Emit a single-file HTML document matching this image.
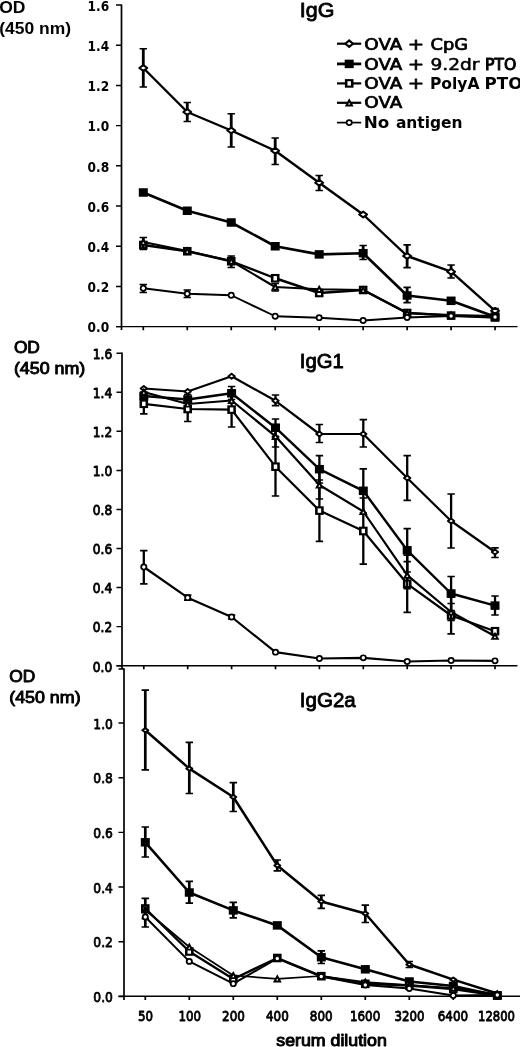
<!DOCTYPE html>
<html lang="en"><head><meta charset="utf-8"><title>OVA-specific IgG, IgG1 and IgG2a serum titres</title>
<style>
html,body{margin:0;padding:0;background:#fff}
body{width:520px;height:1047px;overflow:hidden}
svg{display:block}
text{fill:#000;stroke:#000;stroke-linejoin:round}
.tk{font-family:"DejaVu Sans","Liberation Sans",sans-serif}
.lg{font-family:"DejaVu Sans","Liberation Sans",sans-serif;font-size:15.6px}
.ar{font-family:"Liberation Sans",sans-serif}
.ti{font-size:21px;stroke-width:.85}
.od{font-size:16px}
</style></head><body>
<svg width="520" height="1047" viewBox="0 0 520 1047">
<rect width="520" height="1047" fill="#fff"/>
<path d="M121.5 4.5V330.0" fill="none" stroke="#000" stroke-width="1.7"/>
<path d="M116.0 326.6H517.5" fill="none" stroke="#000" stroke-width="1.45"/>
<path d="M116.0 326.6H121.5M116.0 286.4H121.5M116.0 246.2H121.5M116.0 206.0H121.5M116.0 165.8H121.5M116.0 125.6H121.5M116.0 85.4H121.5M116.0 45.2H121.5M116.0 5.0H121.5" fill="none" stroke="#000" stroke-width="1.45"/>
<path d="M143.30 326.6V330.20000000000005M187.27 326.6V330.20000000000005M231.24 326.6V330.20000000000005M275.21 326.6V330.20000000000005M319.18 326.6V330.20000000000005M363.15 326.6V330.20000000000005M407.12 326.6V330.20000000000005M451.09 326.6V330.20000000000005M495.06 326.6V330.20000000000005" fill="none" stroke="#000" stroke-width="1.7"/>
<text x="109.2" y="332.30" text-anchor="end" font-size="13.8" textLength="21.6" lengthAdjust="spacingAndGlyphs" class="tk" font-weight="bold" stroke-width="0.0">0.0</text>
<text x="109.2" y="292.10" text-anchor="end" font-size="13.8" textLength="21.6" lengthAdjust="spacingAndGlyphs" class="tk" font-weight="bold" stroke-width="0.0">0.2</text>
<text x="109.2" y="251.90" text-anchor="end" font-size="13.8" textLength="21.6" lengthAdjust="spacingAndGlyphs" class="tk" font-weight="bold" stroke-width="0.0">0.4</text>
<text x="109.2" y="211.70" text-anchor="end" font-size="13.8" textLength="21.6" lengthAdjust="spacingAndGlyphs" class="tk" font-weight="bold" stroke-width="0.0">0.6</text>
<text x="109.2" y="171.50" text-anchor="end" font-size="13.8" textLength="21.6" lengthAdjust="spacingAndGlyphs" class="tk" font-weight="bold" stroke-width="0.0">0.8</text>
<text x="109.2" y="131.30" text-anchor="end" font-size="13.8" textLength="21.6" lengthAdjust="spacingAndGlyphs" class="tk" font-weight="bold" stroke-width="0.0">1.0</text>
<text x="109.2" y="91.10" text-anchor="end" font-size="13.8" textLength="21.6" lengthAdjust="spacingAndGlyphs" class="tk" font-weight="bold" stroke-width="0.0">1.2</text>
<text x="109.2" y="50.90" text-anchor="end" font-size="13.8" textLength="21.6" lengthAdjust="spacingAndGlyphs" class="tk" font-weight="bold" stroke-width="0.0">1.4</text>
<text x="109.2" y="10.70" text-anchor="end" font-size="13.8" textLength="21.6" lengthAdjust="spacingAndGlyphs" class="tk" font-weight="bold" stroke-width="0.0">1.6</text>
<polyline points="143.30,68.00 187.27,112.00 231.24,130.50 275.21,150.75 319.18,182.75 363.15,214.50 407.12,256.00 451.09,271.70 495.06,310.80" fill="none" stroke="#000" stroke-width="2.4" stroke-linejoin="round"/>
<path d="M143.30 48.75V87.00M187.27 102.50V121.50M231.24 113.75V147.00M275.21 138.00V164.50M319.18 175.50V190.50M407.12 244.80V267.70M451.09 265.00V278.00M495.06 308.50V313.00" fill="none" stroke="#000" stroke-width="2.8"/>
<path d="M139.60 48.75H147.00M139.60 87.00H147.00M183.57 102.50H190.97M183.57 121.50H190.97M227.54 113.75H234.94M227.54 147.00H234.94M271.51 138.00H278.91M271.51 164.50H278.91M315.48 175.50H322.88M315.48 190.50H322.88M403.42 244.80H410.82M403.42 267.70H410.82M447.39 265.00H454.79M447.39 278.00H454.79M491.36 308.50H498.76M491.36 313.00H498.76" fill="none" stroke="#000" stroke-width="1.7"/>
<path d="M143.30 65.10L147.30 68.00L143.30 70.90L139.30 68.00Z" fill="#fff" stroke="#000" stroke-width="2.0" stroke-linejoin="round"/>
<path d="M187.27 109.10L191.27 112.00L187.27 114.90L183.27 112.00Z" fill="#fff" stroke="#000" stroke-width="2.0" stroke-linejoin="round"/>
<path d="M231.24 127.60L235.24 130.50L231.24 133.40L227.24 130.50Z" fill="#fff" stroke="#000" stroke-width="2.0" stroke-linejoin="round"/>
<path d="M275.21 147.85L279.21 150.75L275.21 153.65L271.21 150.75Z" fill="#fff" stroke="#000" stroke-width="2.0" stroke-linejoin="round"/>
<path d="M319.18 179.85L323.18 182.75L319.18 185.65L315.18 182.75Z" fill="#fff" stroke="#000" stroke-width="2.0" stroke-linejoin="round"/>
<path d="M363.15 211.60L367.15 214.50L363.15 217.40L359.15 214.50Z" fill="#fff" stroke="#000" stroke-width="2.0" stroke-linejoin="round"/>
<path d="M407.12 253.10L411.12 256.00L407.12 258.90L403.12 256.00Z" fill="#fff" stroke="#000" stroke-width="2.0" stroke-linejoin="round"/>
<path d="M451.09 268.80L455.09 271.70L451.09 274.60L447.09 271.70Z" fill="#fff" stroke="#000" stroke-width="2.0" stroke-linejoin="round"/>
<path d="M495.06 307.90L499.06 310.80L495.06 313.70L491.06 310.80Z" fill="#fff" stroke="#000" stroke-width="2.0" stroke-linejoin="round"/>
<polyline points="143.30,192.50 187.27,210.75 231.24,222.50 275.21,246.25 319.18,254.40 363.15,253.20 407.12,295.50 451.09,300.80 495.06,316.70" fill="none" stroke="#000" stroke-width="2.6" stroke-linejoin="round"/>
<path d="M363.15 245.50V259.50M407.12 287.30V302.60" fill="none" stroke="#000" stroke-width="2.8"/>
<path d="M359.45 245.50H366.85M359.45 259.50H366.85M403.42 287.30H410.82M403.42 302.60H410.82" fill="none" stroke="#000" stroke-width="1.7"/>
<rect x="138.80" y="188.25" width="9.00" height="8.50" fill="#000"/>
<rect x="182.77" y="206.50" width="9.00" height="8.50" fill="#000"/>
<rect x="226.74" y="218.25" width="9.00" height="8.50" fill="#000"/>
<rect x="270.71" y="242.00" width="9.00" height="8.50" fill="#000"/>
<rect x="314.68" y="250.15" width="9.00" height="8.50" fill="#000"/>
<rect x="358.65" y="248.95" width="9.00" height="8.50" fill="#000"/>
<rect x="402.62" y="291.25" width="9.00" height="8.50" fill="#000"/>
<rect x="446.59" y="296.55" width="9.00" height="8.50" fill="#000"/>
<rect x="490.56" y="312.45" width="9.00" height="8.50" fill="#000"/>
<polyline points="143.30,245.00 187.27,251.25 231.24,261.25 275.21,278.25 319.18,293.00 363.15,290.00 407.12,313.00 451.09,315.60 495.06,317.50" fill="none" stroke="#000" stroke-width="2.4" stroke-linejoin="round"/>
<rect x="139.00" y="240.70" width="8.60" height="8.60" fill="#000"/><rect x="141.55" y="242.80" width="3.50" height="4.40" fill="#fff"/>
<rect x="182.97" y="246.95" width="8.60" height="8.60" fill="#000"/><rect x="185.52" y="249.05" width="3.50" height="4.40" fill="#fff"/>
<rect x="226.94" y="256.95" width="8.60" height="8.60" fill="#000"/><rect x="229.49" y="259.05" width="3.50" height="4.40" fill="#fff"/>
<rect x="270.91" y="273.95" width="8.60" height="8.60" fill="#000"/><rect x="273.46" y="276.05" width="3.50" height="4.40" fill="#fff"/>
<rect x="314.88" y="288.70" width="8.60" height="8.60" fill="#000"/><rect x="317.43" y="290.80" width="3.50" height="4.40" fill="#fff"/>
<rect x="358.85" y="285.70" width="8.60" height="8.60" fill="#000"/><rect x="361.40" y="287.80" width="3.50" height="4.40" fill="#fff"/>
<rect x="402.82" y="308.70" width="8.60" height="8.60" fill="#000"/><rect x="405.37" y="310.80" width="3.50" height="4.40" fill="#fff"/>
<rect x="446.79" y="311.30" width="8.60" height="8.60" fill="#000"/><rect x="449.34" y="313.40" width="3.50" height="4.40" fill="#fff"/>
<rect x="490.76" y="313.20" width="8.60" height="8.60" fill="#000"/><rect x="493.31" y="315.30" width="3.50" height="4.40" fill="#fff"/>
<polyline points="143.30,242.00 187.27,251.00 231.24,261.00 275.21,287.00 319.18,289.30 363.15,290.00 407.12,313.00 451.09,315.00 495.06,316.00" fill="none" stroke="#000" stroke-width="2.1" stroke-linejoin="round"/>
<path d="M143.30 237.50V249.50M231.24 256.00V267.50M275.21 283.50V291.00" fill="none" stroke="#000" stroke-width="2.8"/>
<path d="M139.60 237.50H147.00M139.60 249.50H147.00M227.54 256.00H234.94M227.54 267.50H234.94M271.51 283.50H278.91M271.51 291.00H278.91" fill="none" stroke="#000" stroke-width="1.7"/>
<path d="M143.30 237.50L147.70 245.60L138.90 245.60Z" fill="#000"/><path d="M143.30 241.80L144.40 243.80L142.20 243.80Z" fill="#fff"/>
<path d="M187.27 246.50L191.67 254.60L182.87 254.60Z" fill="#000"/><path d="M187.27 250.80L188.37 252.80L186.17 252.80Z" fill="#fff"/>
<path d="M231.24 256.50L235.64 264.60L226.84 264.60Z" fill="#000"/><path d="M231.24 260.80L232.34 262.80L230.14 262.80Z" fill="#fff"/>
<path d="M275.21 282.50L279.61 290.60L270.81 290.60Z" fill="#000"/><path d="M275.21 286.80L276.31 288.80L274.11 288.80Z" fill="#fff"/>
<path d="M319.18 284.80L323.58 292.90L314.78 292.90Z" fill="#000"/><path d="M319.18 289.10L320.28 291.10L318.08 291.10Z" fill="#fff"/>
<path d="M363.15 285.50L367.55 293.60L358.75 293.60Z" fill="#000"/><path d="M363.15 289.80L364.25 291.80L362.05 291.80Z" fill="#fff"/>
<path d="M407.12 308.50L411.52 316.60L402.72 316.60Z" fill="#000"/><path d="M407.12 312.80L408.22 314.80L406.02 314.80Z" fill="#fff"/>
<path d="M451.09 310.50L455.49 318.60L446.69 318.60Z" fill="#000"/><path d="M451.09 314.80L452.19 316.80L449.99 316.80Z" fill="#fff"/>
<path d="M495.06 311.50L499.46 319.60L490.66 319.60Z" fill="#000"/><path d="M495.06 315.80L496.16 317.80L493.96 317.80Z" fill="#fff"/>
<polyline points="143.30,288.25 187.27,293.75 231.24,295.25 275.21,316.25 319.18,317.70 363.15,320.50 407.12,317.50 451.09,316.00 495.06,317.00" fill="none" stroke="#000" stroke-width="1.9" stroke-linejoin="round"/>
<path d="M143.30 284.50V292.50M187.27 290.00V297.50" fill="none" stroke="#000" stroke-width="2.8"/>
<path d="M139.60 284.50H147.00M139.60 292.50H147.00M183.57 290.00H190.97M183.57 297.50H190.97" fill="none" stroke="#000" stroke-width="1.7"/>
<ellipse cx="143.30" cy="288.25" rx="3.50" ry="3.40" fill="#000"/><ellipse cx="143.30" cy="288.25" rx="1.70" ry="1.70" fill="#fff"/>
<ellipse cx="187.27" cy="293.75" rx="3.50" ry="3.40" fill="#000"/><ellipse cx="187.27" cy="293.75" rx="1.70" ry="1.70" fill="#fff"/>
<ellipse cx="231.24" cy="295.25" rx="3.50" ry="3.40" fill="#000"/><ellipse cx="231.24" cy="295.25" rx="1.70" ry="1.70" fill="#fff"/>
<ellipse cx="275.21" cy="316.25" rx="3.50" ry="3.40" fill="#000"/><ellipse cx="275.21" cy="316.25" rx="1.70" ry="1.70" fill="#fff"/>
<ellipse cx="319.18" cy="317.70" rx="3.50" ry="3.40" fill="#000"/><ellipse cx="319.18" cy="317.70" rx="1.70" ry="1.70" fill="#fff"/>
<ellipse cx="363.15" cy="320.50" rx="3.50" ry="3.40" fill="#000"/><ellipse cx="363.15" cy="320.50" rx="1.70" ry="1.70" fill="#fff"/>
<ellipse cx="407.12" cy="317.50" rx="3.50" ry="3.40" fill="#000"/><ellipse cx="407.12" cy="317.50" rx="1.70" ry="1.70" fill="#fff"/>
<ellipse cx="451.09" cy="316.00" rx="3.50" ry="3.40" fill="#000"/><ellipse cx="451.09" cy="316.00" rx="1.70" ry="1.70" fill="#fff"/>
<ellipse cx="495.06" cy="317.00" rx="3.50" ry="3.40" fill="#000"/><ellipse cx="495.06" cy="317.00" rx="1.70" ry="1.70" fill="#fff"/>
<path d="M122.0 352.4V669.1" fill="none" stroke="#000" stroke-width="1.7"/>
<path d="M116.5 665.7H517.5" fill="none" stroke="#000" stroke-width="1.45"/>
<path d="M116.5 665.7H122.0M116.5 626.64H122.0M116.5 587.58H122.0M116.5 548.52H122.0M116.5 509.46H122.0M116.5 470.4H122.0M116.5 431.34H122.0M116.5 392.28H122.0M116.5 353.22H122.0" fill="none" stroke="#000" stroke-width="1.45"/>
<path d="M143.80 665.7V669.3000000000001M187.70 665.7V669.3000000000001M231.60 665.7V669.3000000000001M275.50 665.7V669.3000000000001M319.40 665.7V669.3000000000001M363.30 665.7V669.3000000000001M407.20 665.7V669.3000000000001M451.10 665.7V669.3000000000001M495.00 665.7V669.3000000000001" fill="none" stroke="#000" stroke-width="1.7"/>
<text x="112.2" y="671.50" text-anchor="end" font-size="13.2" textLength="19.4" lengthAdjust="spacingAndGlyphs" class="tk" font-weight="normal" stroke-width="0.85">0.0</text>
<text x="112.2" y="632.44" text-anchor="end" font-size="13.2" textLength="19.4" lengthAdjust="spacingAndGlyphs" class="tk" font-weight="normal" stroke-width="0.85">0.2</text>
<text x="112.2" y="593.38" text-anchor="end" font-size="13.2" textLength="19.4" lengthAdjust="spacingAndGlyphs" class="tk" font-weight="normal" stroke-width="0.85">0.4</text>
<text x="112.2" y="554.32" text-anchor="end" font-size="13.2" textLength="19.4" lengthAdjust="spacingAndGlyphs" class="tk" font-weight="normal" stroke-width="0.85">0.6</text>
<text x="112.2" y="515.26" text-anchor="end" font-size="13.2" textLength="19.4" lengthAdjust="spacingAndGlyphs" class="tk" font-weight="normal" stroke-width="0.85">0.8</text>
<text x="112.2" y="476.20" text-anchor="end" font-size="13.2" textLength="19.4" lengthAdjust="spacingAndGlyphs" class="tk" font-weight="normal" stroke-width="0.85">1.0</text>
<text x="112.2" y="437.14" text-anchor="end" font-size="13.2" textLength="19.4" lengthAdjust="spacingAndGlyphs" class="tk" font-weight="normal" stroke-width="0.85">1.2</text>
<text x="112.2" y="398.08" text-anchor="end" font-size="13.2" textLength="19.4" lengthAdjust="spacingAndGlyphs" class="tk" font-weight="normal" stroke-width="0.85">1.4</text>
<text x="112.2" y="359.02" text-anchor="end" font-size="13.2" textLength="19.4" lengthAdjust="spacingAndGlyphs" class="tk" font-weight="normal" stroke-width="0.85">1.6</text>
<polyline points="143.80,388.50 187.70,391.50 231.60,376.30 275.50,400.80 319.40,434.00 363.30,434.00 407.20,478.00 451.10,521.00 495.00,552.00" fill="none" stroke="#000" stroke-width="2.2" stroke-linejoin="round"/>
<path d="M275.50 395.00V405.60M319.40 424.50V442.50M363.30 419.60V447.00M407.20 455.60V500.30M451.10 494.00V548.00M495.00 547.80V557.50" fill="none" stroke="#000" stroke-width="2.3"/>
<path d="M271.80 395.00H279.20M271.80 405.60H279.20M315.70 424.50H323.10M315.70 442.50H323.10M359.60 419.60H367.00M359.60 447.00H367.00M403.50 455.60H410.90M403.50 500.30H410.90M447.40 494.00H454.80M447.40 548.00H454.80M491.30 547.80H498.70M491.30 557.50H498.70" fill="none" stroke="#000" stroke-width="1.7"/>
<path d="M143.80 386.00L147.00 388.50L143.80 391.00L140.60 388.50Z" fill="#fff" stroke="#000" stroke-width="1.9" stroke-linejoin="round"/>
<path d="M187.70 389.00L190.90 391.50L187.70 394.00L184.50 391.50Z" fill="#fff" stroke="#000" stroke-width="1.9" stroke-linejoin="round"/>
<path d="M231.60 373.80L234.80 376.30L231.60 378.80L228.40 376.30Z" fill="#fff" stroke="#000" stroke-width="1.9" stroke-linejoin="round"/>
<path d="M275.50 398.30L278.70 400.80L275.50 403.30L272.30 400.80Z" fill="#fff" stroke="#000" stroke-width="1.9" stroke-linejoin="round"/>
<path d="M319.40 431.50L322.60 434.00L319.40 436.50L316.20 434.00Z" fill="#fff" stroke="#000" stroke-width="1.9" stroke-linejoin="round"/>
<path d="M363.30 431.50L366.50 434.00L363.30 436.50L360.10 434.00Z" fill="#fff" stroke="#000" stroke-width="1.9" stroke-linejoin="round"/>
<path d="M407.20 475.50L410.40 478.00L407.20 480.50L404.00 478.00Z" fill="#fff" stroke="#000" stroke-width="1.9" stroke-linejoin="round"/>
<path d="M451.10 518.50L454.30 521.00L451.10 523.50L447.90 521.00Z" fill="#fff" stroke="#000" stroke-width="1.9" stroke-linejoin="round"/>
<path d="M495.00 549.50L498.20 552.00L495.00 554.50L491.80 552.00Z" fill="#fff" stroke="#000" stroke-width="1.9" stroke-linejoin="round"/>
<polyline points="143.80,396.00 187.70,399.50 231.60,393.30 275.50,427.70 319.40,469.20 363.30,490.80 407.20,550.30 451.10,593.50 495.00,605.60" fill="none" stroke="#000" stroke-width="2.4" stroke-linejoin="round"/>
<path d="M231.60 386.50V399.50M275.50 419.00V436.40M319.40 455.60V483.00M363.30 468.80V513.00M407.20 528.60V572.00M451.10 576.50V610.50M495.00 596.00V615.00" fill="none" stroke="#000" stroke-width="2.3"/>
<path d="M227.90 386.50H235.30M227.90 399.50H235.30M271.80 419.00H279.20M271.80 436.40H279.20M315.70 455.60H323.10M315.70 483.00H323.10M359.60 468.80H367.00M359.60 513.00H367.00M403.50 528.60H410.90M403.50 572.00H410.90M447.40 576.50H454.80M447.40 610.50H454.80M491.30 596.00H498.70M491.30 615.00H498.70" fill="none" stroke="#000" stroke-width="1.7"/>
<rect x="139.30" y="391.75" width="9.00" height="8.50" fill="#000"/>
<rect x="183.20" y="395.25" width="9.00" height="8.50" fill="#000"/>
<rect x="227.10" y="389.05" width="9.00" height="8.50" fill="#000"/>
<rect x="271.00" y="423.45" width="9.00" height="8.50" fill="#000"/>
<rect x="314.90" y="464.95" width="9.00" height="8.50" fill="#000"/>
<rect x="358.80" y="486.55" width="9.00" height="8.50" fill="#000"/>
<rect x="402.70" y="546.05" width="9.00" height="8.50" fill="#000"/>
<rect x="446.60" y="589.25" width="9.00" height="8.50" fill="#000"/>
<rect x="490.50" y="601.35" width="9.00" height="8.50" fill="#000"/>
<polyline points="143.80,403.80 187.70,409.00 231.60,409.60 275.50,466.70 319.40,510.60 363.30,531.00 407.20,583.80 451.10,615.50 495.00,631.20" fill="none" stroke="#000" stroke-width="2.2" stroke-linejoin="round"/>
<path d="M143.80 392.00V413.80M187.70 394.50V421.50M231.60 392.00V427.00M275.50 437.40V496.00M319.40 480.00V541.30M363.30 498.00V564.20M407.20 555.20V612.40M451.10 597.20V633.80" fill="none" stroke="#000" stroke-width="2.3"/>
<path d="M140.10 392.00H147.50M140.10 413.80H147.50M184.00 394.50H191.40M184.00 421.50H191.40M227.90 392.00H235.30M227.90 427.00H235.30M271.80 437.40H279.20M271.80 496.00H279.20M315.70 480.00H323.10M315.70 541.30H323.10M359.60 498.00H367.00M359.60 564.20H367.00M403.50 555.20H410.90M403.50 612.40H410.90M447.40 597.20H454.80M447.40 633.80H454.80" fill="none" stroke="#000" stroke-width="1.7"/>
<rect x="139.50" y="399.50" width="8.60" height="8.60" fill="#000"/><rect x="142.05" y="401.60" width="3.50" height="4.40" fill="#fff"/>
<rect x="183.40" y="404.70" width="8.60" height="8.60" fill="#000"/><rect x="185.95" y="406.80" width="3.50" height="4.40" fill="#fff"/>
<rect x="227.30" y="405.30" width="8.60" height="8.60" fill="#000"/><rect x="229.85" y="407.40" width="3.50" height="4.40" fill="#fff"/>
<rect x="271.20" y="462.40" width="8.60" height="8.60" fill="#000"/><rect x="273.75" y="464.50" width="3.50" height="4.40" fill="#fff"/>
<rect x="315.10" y="506.30" width="8.60" height="8.60" fill="#000"/><rect x="317.65" y="508.40" width="3.50" height="4.40" fill="#fff"/>
<rect x="359.00" y="526.70" width="8.60" height="8.60" fill="#000"/><rect x="361.55" y="528.80" width="3.50" height="4.40" fill="#fff"/>
<rect x="402.90" y="579.50" width="8.60" height="8.60" fill="#000"/><rect x="405.45" y="581.60" width="3.50" height="4.40" fill="#fff"/>
<rect x="446.80" y="611.20" width="8.60" height="8.60" fill="#000"/><rect x="449.35" y="613.30" width="3.50" height="4.40" fill="#fff"/>
<rect x="490.70" y="626.90" width="8.60" height="8.60" fill="#000"/><rect x="493.25" y="629.00" width="3.50" height="4.40" fill="#fff"/>
<polyline points="143.80,392.00 187.70,404.00 231.60,400.50 275.50,436.30 319.40,485.00 363.30,511.50 407.20,575.20 451.10,612.00 495.00,636.20" fill="none" stroke="#000" stroke-width="2.2" stroke-linejoin="round"/>
<path d="M275.50 425.60V447.00M319.40 471.00V499.00M407.20 561.70V588.70M451.10 603.50V620.50" fill="none" stroke="#000" stroke-width="2.3"/>
<path d="M271.80 425.60H279.20M271.80 447.00H279.20M315.70 471.00H323.10M315.70 499.00H323.10M403.50 561.70H410.90M403.50 588.70H410.90M447.40 603.50H454.80M447.40 620.50H454.80" fill="none" stroke="#000" stroke-width="1.7"/>
<path d="M143.80 387.50L148.20 395.60L139.40 395.60Z" fill="#000"/><path d="M143.80 391.80L144.90 393.80L142.70 393.80Z" fill="#fff"/>
<path d="M187.70 399.50L192.10 407.60L183.30 407.60Z" fill="#000"/><path d="M187.70 403.80L188.80 405.80L186.60 405.80Z" fill="#fff"/>
<path d="M231.60 396.00L236.00 404.10L227.20 404.10Z" fill="#000"/><path d="M231.60 400.30L232.70 402.30L230.50 402.30Z" fill="#fff"/>
<path d="M275.50 431.80L279.90 439.90L271.10 439.90Z" fill="#000"/><path d="M275.50 436.10L276.60 438.10L274.40 438.10Z" fill="#fff"/>
<path d="M319.40 480.50L323.80 488.60L315.00 488.60Z" fill="#000"/><path d="M319.40 484.80L320.50 486.80L318.30 486.80Z" fill="#fff"/>
<path d="M363.30 507.00L367.70 515.10L358.90 515.10Z" fill="#000"/><path d="M363.30 511.30L364.40 513.30L362.20 513.30Z" fill="#fff"/>
<path d="M407.20 570.70L411.60 578.80L402.80 578.80Z" fill="#000"/><path d="M407.20 575.00L408.30 577.00L406.10 577.00Z" fill="#fff"/>
<path d="M451.10 607.50L455.50 615.60L446.70 615.60Z" fill="#000"/><path d="M451.10 611.80L452.20 613.80L450.00 613.80Z" fill="#fff"/>
<path d="M495.00 631.70L499.40 639.80L490.60 639.80Z" fill="#000"/><path d="M495.00 636.00L496.10 638.00L493.90 638.00Z" fill="#fff"/>
<polyline points="143.80,567.00 187.70,597.70 231.60,617.00 275.50,652.20 319.40,658.50 363.30,657.80 407.20,661.50 451.10,660.50 495.00,660.80" fill="none" stroke="#000" stroke-width="2.2" stroke-linejoin="round"/>
<path d="M143.80 550.60V583.80M187.70 595.20V600.20M231.60 615.00V619.00" fill="none" stroke="#000" stroke-width="2.3"/>
<path d="M140.10 550.60H147.50M140.10 583.80H147.50M184.00 595.20H191.40M184.00 600.20H191.40M227.90 615.00H235.30M227.90 619.00H235.30" fill="none" stroke="#000" stroke-width="1.7"/>
<ellipse cx="143.80" cy="567.00" rx="3.50" ry="3.40" fill="#000"/><ellipse cx="143.80" cy="567.00" rx="1.70" ry="1.70" fill="#fff"/>
<ellipse cx="187.70" cy="597.70" rx="3.50" ry="3.40" fill="#000"/><ellipse cx="187.70" cy="597.70" rx="1.70" ry="1.70" fill="#fff"/>
<ellipse cx="231.60" cy="617.00" rx="3.50" ry="3.40" fill="#000"/><ellipse cx="231.60" cy="617.00" rx="1.70" ry="1.70" fill="#fff"/>
<ellipse cx="275.50" cy="652.20" rx="3.50" ry="3.40" fill="#000"/><ellipse cx="275.50" cy="652.20" rx="1.70" ry="1.70" fill="#fff"/>
<ellipse cx="319.40" cy="658.50" rx="3.50" ry="3.40" fill="#000"/><ellipse cx="319.40" cy="658.50" rx="1.70" ry="1.70" fill="#fff"/>
<ellipse cx="363.30" cy="657.80" rx="3.50" ry="3.40" fill="#000"/><ellipse cx="363.30" cy="657.80" rx="1.70" ry="1.70" fill="#fff"/>
<ellipse cx="407.20" cy="661.50" rx="3.50" ry="3.40" fill="#000"/><ellipse cx="407.20" cy="661.50" rx="1.70" ry="1.70" fill="#fff"/>
<ellipse cx="451.10" cy="660.50" rx="3.50" ry="3.40" fill="#000"/><ellipse cx="451.10" cy="660.50" rx="1.70" ry="1.70" fill="#fff"/>
<ellipse cx="495.00" cy="660.80" rx="3.50" ry="3.40" fill="#000"/><ellipse cx="495.00" cy="660.80" rx="1.70" ry="1.70" fill="#fff"/>
<path d="M124.0 668.3V1000.0999999999999" fill="none" stroke="#000" stroke-width="1.7"/>
<path d="M118.5 996.3H520" fill="none" stroke="#000" stroke-width="1.45"/>
<path d="M118.5 996.4H124.0M118.5 941.72H124.0M118.5 887.04H124.0M118.5 832.36H124.0M118.5 777.68H124.0M118.5 723.0H124.0M118.5 669.0H124.0" fill="none" stroke="#000" stroke-width="1.45"/>
<path d="M145.30 996.3V999.9M189.30 996.3V999.9M233.30 996.3V999.9M277.30 996.3V999.9M321.30 996.3V999.9M365.30 996.3V999.9M409.30 996.3V999.9M453.30 996.3V999.9M497.30 996.3V999.9" fill="none" stroke="#000" stroke-width="1.7"/>
<text x="112.9" y="1002.00" text-anchor="end" font-size="13.6" textLength="19.6" lengthAdjust="spacingAndGlyphs" class="tk" font-weight="normal" stroke-width="0.75">0.0</text>
<text x="112.9" y="947.32" text-anchor="end" font-size="13.6" textLength="19.6" lengthAdjust="spacingAndGlyphs" class="tk" font-weight="normal" stroke-width="0.75">0.2</text>
<text x="112.9" y="892.64" text-anchor="end" font-size="13.6" textLength="19.6" lengthAdjust="spacingAndGlyphs" class="tk" font-weight="normal" stroke-width="0.75">0.4</text>
<text x="112.9" y="837.96" text-anchor="end" font-size="13.6" textLength="19.6" lengthAdjust="spacingAndGlyphs" class="tk" font-weight="normal" stroke-width="0.75">0.6</text>
<text x="112.9" y="783.28" text-anchor="end" font-size="13.6" textLength="19.6" lengthAdjust="spacingAndGlyphs" class="tk" font-weight="normal" stroke-width="0.75">0.8</text>
<text x="112.9" y="728.60" text-anchor="end" font-size="13.6" textLength="19.6" lengthAdjust="spacingAndGlyphs" class="tk" font-weight="normal" stroke-width="0.75">1.0</text>
<polyline points="145.30,730.20 189.30,768.60 233.30,797.00 277.30,865.50 321.30,901.50 365.30,913.50 409.30,964.50 453.30,979.60 497.30,993.50" fill="none" stroke="#000" stroke-width="2.5" stroke-linejoin="round"/>
<path d="M145.30 690.20V769.80M189.30 742.30V793.50M233.30 782.70V811.50M277.30 860.00V870.80M321.30 895.40V908.30M365.30 905.20V922.50M409.30 961.50V967.50" fill="none" stroke="#000" stroke-width="2.7"/>
<path d="M141.60 690.20H149.00M141.60 769.80H149.00M185.60 742.30H193.00M185.60 793.50H193.00M229.60 782.70H237.00M229.60 811.50H237.00M273.60 860.00H281.00M273.60 870.80H281.00M317.60 895.40H325.00M317.60 908.30H325.00M361.60 905.20H369.00M361.60 922.50H369.00M405.60 961.50H413.00M405.60 967.50H413.00" fill="none" stroke="#000" stroke-width="1.7"/>
<path d="M145.30 728.10L148.30 730.20L145.30 732.30L142.30 730.20Z" fill="#fff" stroke="#000" stroke-width="2.0" stroke-linejoin="round"/>
<path d="M189.30 766.50L192.30 768.60L189.30 770.70L186.30 768.60Z" fill="#fff" stroke="#000" stroke-width="2.0" stroke-linejoin="round"/>
<path d="M233.30 794.90L236.30 797.00L233.30 799.10L230.30 797.00Z" fill="#fff" stroke="#000" stroke-width="2.0" stroke-linejoin="round"/>
<path d="M277.30 863.40L280.30 865.50L277.30 867.60L274.30 865.50Z" fill="#fff" stroke="#000" stroke-width="2.0" stroke-linejoin="round"/>
<path d="M321.30 899.40L324.30 901.50L321.30 903.60L318.30 901.50Z" fill="#fff" stroke="#000" stroke-width="2.0" stroke-linejoin="round"/>
<path d="M365.30 911.40L368.30 913.50L365.30 915.60L362.30 913.50Z" fill="#fff" stroke="#000" stroke-width="2.0" stroke-linejoin="round"/>
<path d="M409.30 962.40L412.30 964.50L409.30 966.60L406.30 964.50Z" fill="#fff" stroke="#000" stroke-width="2.0" stroke-linejoin="round"/>
<path d="M453.30 977.50L456.30 979.60L453.30 981.70L450.30 979.60Z" fill="#fff" stroke="#000" stroke-width="2.0" stroke-linejoin="round"/>
<path d="M497.30 991.40L500.30 993.50L497.30 995.60L494.30 993.50Z" fill="#fff" stroke="#000" stroke-width="2.0" stroke-linejoin="round"/>
<polyline points="145.30,842.30 189.30,892.50 233.30,910.40 277.30,925.40 321.30,957.20 365.30,969.30 409.30,981.50 453.30,986.00 497.30,995.50" fill="none" stroke="#000" stroke-width="2.6" stroke-linejoin="round"/>
<path d="M145.30 827.00V857.00M189.30 881.40V903.20M233.30 902.40V917.80M321.30 950.80V963.50" fill="none" stroke="#000" stroke-width="2.7"/>
<path d="M141.60 827.00H149.00M141.60 857.00H149.00M185.60 881.40H193.00M185.60 903.20H193.00M229.60 902.40H237.00M229.60 917.80H237.00M317.60 950.80H325.00M317.60 963.50H325.00" fill="none" stroke="#000" stroke-width="1.7"/>
<rect x="140.80" y="838.05" width="9.00" height="8.50" fill="#000"/>
<rect x="184.80" y="888.25" width="9.00" height="8.50" fill="#000"/>
<rect x="228.80" y="906.15" width="9.00" height="8.50" fill="#000"/>
<rect x="272.80" y="921.15" width="9.00" height="8.50" fill="#000"/>
<rect x="316.80" y="952.95" width="9.00" height="8.50" fill="#000"/>
<rect x="360.80" y="965.05" width="9.00" height="8.50" fill="#000"/>
<rect x="404.80" y="977.25" width="9.00" height="8.50" fill="#000"/>
<rect x="448.80" y="981.75" width="9.00" height="8.50" fill="#000"/>
<rect x="492.80" y="991.25" width="9.00" height="8.50" fill="#000"/>
<polyline points="145.30,908.50 189.30,951.50 233.30,979.00 277.30,958.00 321.30,976.20 365.30,983.80 409.30,985.50 453.30,989.00 497.30,995.50" fill="none" stroke="#000" stroke-width="2.4" stroke-linejoin="round"/>
<path d="M145.30 898.30V918.70" fill="none" stroke="#000" stroke-width="2.7"/>
<path d="M141.60 898.30H149.00M141.60 918.70H149.00" fill="none" stroke="#000" stroke-width="1.7"/>
<rect x="141.00" y="904.20" width="8.60" height="8.60" fill="#000"/><rect x="143.55" y="906.30" width="3.50" height="4.40" fill="#fff"/>
<rect x="185.00" y="947.20" width="8.60" height="8.60" fill="#000"/><rect x="187.55" y="949.30" width="3.50" height="4.40" fill="#fff"/>
<rect x="229.00" y="974.70" width="8.60" height="8.60" fill="#000"/><rect x="231.55" y="976.80" width="3.50" height="4.40" fill="#fff"/>
<rect x="273.00" y="953.70" width="8.60" height="8.60" fill="#000"/><rect x="275.55" y="955.80" width="3.50" height="4.40" fill="#fff"/>
<rect x="317.00" y="971.90" width="8.60" height="8.60" fill="#000"/><rect x="319.55" y="974.00" width="3.50" height="4.40" fill="#fff"/>
<rect x="361.00" y="979.50" width="8.60" height="8.60" fill="#000"/><rect x="363.55" y="981.60" width="3.50" height="4.40" fill="#fff"/>
<rect x="405.00" y="981.20" width="8.60" height="8.60" fill="#000"/><rect x="407.55" y="983.30" width="3.50" height="4.40" fill="#fff"/>
<rect x="449.00" y="984.70" width="8.60" height="8.60" fill="#000"/><rect x="451.55" y="986.80" width="3.50" height="4.40" fill="#fff"/>
<rect x="493.00" y="991.20" width="8.60" height="8.60" fill="#000"/><rect x="495.55" y="993.30" width="3.50" height="4.40" fill="#fff"/>
<polyline points="145.30,910.00 189.30,947.00 233.30,975.50 277.30,978.80 321.30,976.00 365.30,982.00 409.30,985.00 453.30,988.00 497.30,994.00" fill="none" stroke="#000" stroke-width="1.7" stroke-linejoin="round"/>
<path d="M145.30 905.50L149.70 913.60L140.90 913.60Z" fill="#000"/><path d="M145.30 909.80L146.40 911.80L144.20 911.80Z" fill="#fff"/>
<path d="M189.30 942.50L193.70 950.60L184.90 950.60Z" fill="#000"/><path d="M189.30 946.80L190.40 948.80L188.20 948.80Z" fill="#fff"/>
<path d="M233.30 971.00L237.70 979.10L228.90 979.10Z" fill="#000"/><path d="M233.30 975.30L234.40 977.30L232.20 977.30Z" fill="#fff"/>
<path d="M277.30 974.30L281.70 982.40L272.90 982.40Z" fill="#000"/><path d="M277.30 978.60L278.40 980.60L276.20 980.60Z" fill="#fff"/>
<path d="M321.30 971.50L325.70 979.60L316.90 979.60Z" fill="#000"/><path d="M321.30 975.80L322.40 977.80L320.20 977.80Z" fill="#fff"/>
<path d="M365.30 977.50L369.70 985.60L360.90 985.60Z" fill="#000"/><path d="M365.30 981.80L366.40 983.80L364.20 983.80Z" fill="#fff"/>
<path d="M409.30 980.50L413.70 988.60L404.90 988.60Z" fill="#000"/><path d="M409.30 984.80L410.40 986.80L408.20 986.80Z" fill="#fff"/>
<path d="M453.30 983.50L457.70 991.60L448.90 991.60Z" fill="#000"/><path d="M453.30 987.80L454.40 989.80L452.20 989.80Z" fill="#fff"/>
<path d="M497.30 989.50L501.70 997.60L492.90 997.60Z" fill="#000"/><path d="M497.30 993.80L498.40 995.80L496.20 995.80Z" fill="#fff"/>
<polyline points="145.30,917.00 189.30,961.40 233.30,983.70 277.30,958.50 321.30,976.50 365.30,985.00 409.30,988.50 453.30,995.50 497.30,995.00" fill="none" stroke="#000" stroke-width="2.0" stroke-linejoin="round"/>
<path d="M145.30 907.00V927.00" fill="none" stroke="#000" stroke-width="2.7"/>
<path d="M141.60 907.00H149.00M141.60 927.00H149.00" fill="none" stroke="#000" stroke-width="1.7"/>
<ellipse cx="145.30" cy="917.00" rx="3.50" ry="3.40" fill="#000"/><ellipse cx="145.30" cy="917.00" rx="1.70" ry="1.70" fill="#fff"/>
<ellipse cx="189.30" cy="961.40" rx="3.50" ry="3.40" fill="#000"/><ellipse cx="189.30" cy="961.40" rx="1.70" ry="1.70" fill="#fff"/>
<ellipse cx="233.30" cy="983.70" rx="3.50" ry="3.40" fill="#000"/><ellipse cx="233.30" cy="983.70" rx="1.70" ry="1.70" fill="#fff"/>
<ellipse cx="277.30" cy="958.50" rx="3.50" ry="3.40" fill="#000"/><ellipse cx="277.30" cy="958.50" rx="1.70" ry="1.70" fill="#fff"/>
<ellipse cx="321.30" cy="976.50" rx="3.50" ry="3.40" fill="#000"/><ellipse cx="321.30" cy="976.50" rx="1.70" ry="1.70" fill="#fff"/>
<ellipse cx="365.30" cy="985.00" rx="3.50" ry="3.40" fill="#000"/><ellipse cx="365.30" cy="985.00" rx="1.70" ry="1.70" fill="#fff"/>
<ellipse cx="409.30" cy="988.50" rx="3.50" ry="3.40" fill="#000"/><ellipse cx="409.30" cy="988.50" rx="1.70" ry="1.70" fill="#fff"/>
<ellipse cx="453.30" cy="995.50" rx="3.50" ry="3.40" fill="#000"/><ellipse cx="453.30" cy="995.50" rx="1.70" ry="1.70" fill="#fff"/>
<ellipse cx="497.30" cy="995.00" rx="3.50" ry="3.40" fill="#000"/><ellipse cx="497.30" cy="995.00" rx="1.70" ry="1.70" fill="#fff"/>
<text x="145.40" y="1021.4" text-anchor="middle" font-size="14.4" textLength="15.0" lengthAdjust="spacingAndGlyphs" class="tk" stroke-width=".9">50</text>
<text x="189.80" y="1021.4" text-anchor="middle" font-size="14.4" textLength="22.6" lengthAdjust="spacingAndGlyphs" class="tk" stroke-width=".9">100</text>
<text x="233.50" y="1021.4" text-anchor="middle" font-size="14.4" textLength="22.8" lengthAdjust="spacingAndGlyphs" class="tk" stroke-width=".9">200</text>
<text x="277.40" y="1021.4" text-anchor="middle" font-size="14.4" textLength="22.8" lengthAdjust="spacingAndGlyphs" class="tk" stroke-width=".9">400</text>
<text x="321.20" y="1021.4" text-anchor="middle" font-size="14.4" textLength="22.8" lengthAdjust="spacingAndGlyphs" class="tk" stroke-width=".9">800</text>
<text x="365.10" y="1021.4" text-anchor="middle" font-size="14.4" textLength="30.4" lengthAdjust="spacingAndGlyphs" class="tk" stroke-width=".9">1600</text>
<text x="409.40" y="1021.4" text-anchor="middle" font-size="14.4" textLength="30.0" lengthAdjust="spacingAndGlyphs" class="tk" stroke-width=".9">3200</text>
<text x="452.90" y="1021.4" text-anchor="middle" font-size="14.4" textLength="30.4" lengthAdjust="spacingAndGlyphs" class="tk" stroke-width=".9">6400</text>
<text x="496.50" y="1021.4" text-anchor="middle" font-size="14.4" textLength="37.0" lengthAdjust="spacingAndGlyphs" class="tk" stroke-width=".9">12800</text>
<text x="276.3" y="1045.7" class="ar" font-size="16" stroke-width=".95" textLength="110.5" lengthAdjust="spacingAndGlyphs">serum dilution</text>
<text x="299.8" y="17.0" class="ar ti" textLength="34.6" lengthAdjust="spacingAndGlyphs">IgG</text>
<text x="299.8" y="367.9" class="ar ti" textLength="44" lengthAdjust="spacingAndGlyphs">IgG1</text>
<text x="299.8" y="707.0" class="ar ti" textLength="56" lengthAdjust="spacingAndGlyphs">IgG2a</text>
<text x="-0.8" y="12.7" class="ar od" font-weight="bold" stroke-width="0" textLength="26.3" lengthAdjust="spacingAndGlyphs">OD</text>
<text x="-0.8" y="33.7" class="ar od" font-weight="bold" stroke-width="0" textLength="71.8" lengthAdjust="spacingAndGlyphs">(450 nm)</text>
<text x="13.9" y="352.6" class="ar od" font-weight="normal" stroke-width="0.9" textLength="26" lengthAdjust="spacingAndGlyphs">OD</text>
<text x="13.9" y="374.40000000000003" class="ar od" font-weight="normal" stroke-width="0.9" textLength="71.4" lengthAdjust="spacingAndGlyphs">(450 nm)</text>
<text x="9.2" y="682.2" class="ar od" font-weight="normal" stroke-width="0.9" textLength="26" lengthAdjust="spacingAndGlyphs">OD</text>
<text x="9.2" y="703.2" class="ar od" font-weight="normal" stroke-width="0.9" textLength="71.4" lengthAdjust="spacingAndGlyphs">(450 nm)</text>
<path d="M337 43.70H361.2" stroke="#000" stroke-width="2.2"/>
<path d="M349.20 39.10L354.60 43.70L349.20 48.30L343.80 43.70Z" fill="#000"/><path d="M349.20 42.10L351.50 43.70L349.20 45.30L346.90 43.70Z" fill="#fff"/>
<text y="50.20" class="lg"><tspan x="364.32" textLength="38.06" lengthAdjust="spacingAndGlyphs" font-weight="normal" stroke-width="0.72">OVA</tspan> <tspan x="407.78" textLength="16.43" lengthAdjust="spacingAndGlyphs" font-weight="normal" stroke-width="0.7">+</tspan> <tspan x="430.53" textLength="37.58" lengthAdjust="spacingAndGlyphs" font-weight="normal" stroke-width="0.72">CpG</tspan></text>
<path d="M337 63.90H361.2" stroke="#000" stroke-width="2.8"/>
<rect x="344.70" y="59.65" width="9.00" height="8.50" fill="#000"/>
<text y="69.60" class="lg"><tspan x="364.32" textLength="38.06" lengthAdjust="spacingAndGlyphs" font-weight="normal" stroke-width="0.72">OVA</tspan> <tspan x="407.78" textLength="16.43" lengthAdjust="spacingAndGlyphs" font-weight="normal" stroke-width="0.7">+</tspan> <tspan x="430.4" textLength="49.15" lengthAdjust="spacingAndGlyphs" font-weight="normal" stroke-width="0.55">9.2dr</tspan> <tspan x="484.9" textLength="31.4" lengthAdjust="spacingAndGlyphs" font-weight="normal" stroke-width="1.05">PTO</tspan></text>
<path d="M337 83.40H361.2" stroke="#000" stroke-width="2.2"/>
<rect x="344.90" y="79.10" width="8.60" height="8.60" fill="#000"/><rect x="347.45" y="81.20" width="3.50" height="4.40" fill="#fff"/>
<text y="89.00" class="lg"><tspan x="364.32" textLength="38.06" lengthAdjust="spacingAndGlyphs" font-weight="normal" stroke-width="0.72">OVA</tspan> <tspan x="407.78" textLength="16.43" lengthAdjust="spacingAndGlyphs" font-weight="normal" stroke-width="0.7">+</tspan> <tspan x="429.88" textLength="49.66" lengthAdjust="spacingAndGlyphs" font-weight="bold" stroke-width="0">PolyA</tspan> <tspan x="484.61" textLength="37.83" lengthAdjust="spacingAndGlyphs" font-weight="bold" stroke-width="0">PTO</tspan></text>
<path d="M337 102.80H361.2" stroke="#000" stroke-width="2.2"/>
<path d="M349.20 98.30L353.60 106.40L344.80 106.40Z" fill="#000"/><path d="M349.20 102.60L350.30 104.60L348.10 104.60Z" fill="#fff"/>
<text y="108.40" class="lg"><tspan x="364.32" textLength="38.06" lengthAdjust="spacingAndGlyphs" font-weight="normal" stroke-width="0.72">OVA</tspan></text>
<path d="M337 122.60H361.2" stroke="#000" stroke-width="1.7"/>
<ellipse cx="349.20" cy="122.60" rx="3.50" ry="3.40" fill="#000"/><ellipse cx="349.20" cy="122.60" rx="1.70" ry="1.70" fill="#fff"/>
<text y="127.80" class="lg"><tspan x="363.78" textLength="25.58" lengthAdjust="spacingAndGlyphs" font-weight="bold" stroke-width="0">No</tspan> <tspan x="395.93" textLength="66.58" lengthAdjust="spacingAndGlyphs" font-weight="bold" stroke-width="0">antigen</tspan></text>
</svg></body></html>
